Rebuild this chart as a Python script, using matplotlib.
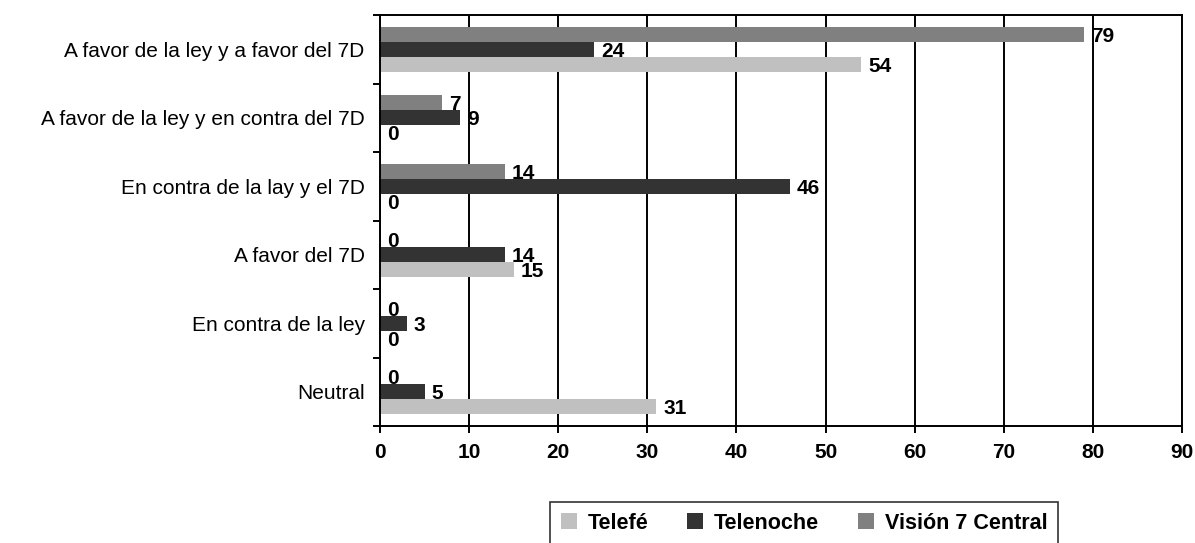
import numpy as np
import matplotlib.pyplot as plt
from matplotlib.patches import Patch

plt.rcParams['font.family'] = ['Liberation Sans', 'DejaVu Sans']

categories = [
    'A favor de la ley y a favor del 7D',
    'A favor de la ley y en contra del 7D',
    'En contra de la lay y el 7D',
    'A favor del 7D',
    'En contra de la ley',
    'Neutral',
]
series_names = ['Telefé', 'Telenoche', 'Visión 7 Central']
telefe = [54, 0, 0, 15, 0, 31]
telenoche = [24, 9, 46, 14, 3, 5]
vision = [79, 7, 14, 0, 0, 0]
colors = ['#C0C0C0', '#333333', '#808080']

fig = plt.figure(figsize=(11.95, 5.43), dpi=100)
ax = fig.add_axes([380 / 1195, 1 - 426 / 543, (1182 - 380) / 1195, (426 - 15) / 543])

y = np.arange(len(categories))
h = 0.22
# Vision on top, Telefé at the bottom of each group (axis inverted)
offsets = [h, 0, -h]
for vals, off, col in zip([telefe, telenoche, vision], offsets, colors):
    ax.barh(y + off, vals, height=h, color=col, zorder=2)
    for yi, v in zip(y, vals):
        ax.annotate(str(v), (v, yi + off), xytext=(5, -1.5), textcoords='offset points',
                    ha='left', va='center', fontsize=15, fontweight='bold', zorder=3)

ax.set_xlim(0, 90)
ax.set_ylim(len(categories) - 0.5, -0.5)
ax.set_xticks(np.arange(0, 91, 10))
ax.xaxis.grid(True, color='black', linewidth=1.4, zorder=0)
ax.set_axisbelow(True)

ax.set_yticks(y)
ax.set_yticklabels(categories, fontsize=15)
ax.set_yticks(np.arange(-0.5, len(categories), 1), minor=True)
ax.tick_params(axis='y', which='major', length=0, pad=11)
ax.tick_params(axis='y', which='minor', length=5, width=1.4, direction='out')
ax.tick_params(axis='x', length=5, width=1.4, direction='out', pad=7, labelsize=15)
for lab in ax.get_xticklabels():
    lab.set_fontweight('bold')

for sp in ax.spines.values():
    sp.set_linewidth(1.4)

handles = [Patch(facecolor=c, edgecolor='none') for c in colors]
leg = fig.legend(handles, series_names, loc='upper center', ncol=3,
                 bbox_to_anchor=(804 / 1195, 1 - 502 / 543),
                 prop={'weight': 'bold', 'size': 15.5}, frameon=True, fancybox=False,
                 handlelength=0.75, handleheight=0.75, handletextpad=0.5,
                 columnspacing=1.8, borderpad=0.5, borderaxespad=0)
leg.get_frame().set_edgecolor('black')
leg.get_frame().set_linewidth(1.2)

fig.savefig('out.png', dpi=100)
